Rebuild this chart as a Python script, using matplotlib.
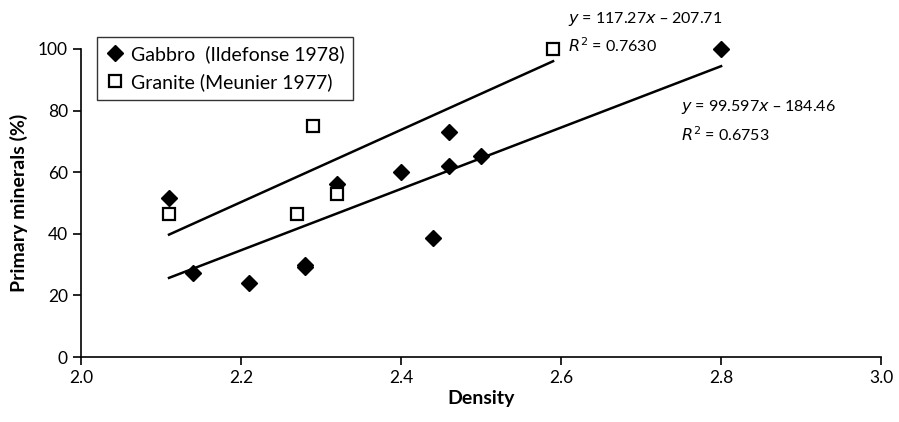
import numpy as np
import matplotlib.pyplot as plt

plt.rcParams['font.family'] = ['Lato', 'DejaVu Sans']

# Gabbro (Ildefonse 1978)
gabbro_x = [2.11, 2.14, 2.21, 2.28, 2.28, 2.32, 2.40, 2.44, 2.46, 2.46, 2.50, 2.80]
gabbro_y = [51.5, 27.4, 24.1, 29.3, 30.0, 56.0, 60.2, 38.5, 73.1, 62.0, 65.3, 100.0]

# Granite (Meunier 1977)
granite_x = [2.11, 2.27, 2.29, 2.32, 2.59]
granite_y = [46.3, 46.3, 75.0, 52.9, 100.0]

# trend line coefficients (slope, intercept)
gabbro_fit = (99.597, -184.46)
granite_fit = (117.27, -207.71)

fig = plt.figure(figsize=(8.99, 4.22), dpi=100)
ax = fig.add_axes([0.0901, 0.154, 0.89, 0.730])

gx = np.array([min(gabbro_x), max(gabbro_x)])
ax.plot(gx, gabbro_fit[0]*gx + gabbro_fit[1], c='black', lw=1.8, clip_on=False)
sx = np.array([min(granite_x), max(granite_x)])
ax.plot(sx, granite_fit[0]*sx + granite_fit[1], c='black', lw=1.8, clip_on=False)

ax.plot(gabbro_x, gabbro_y, 'D', ms=8, mfc='black', mec='black',
        label='Gabbro  (Ildefonse 1978)', clip_on=False, zorder=3)
ax.plot(granite_x, granite_y, 's', ms=9, mfc='white', mec='black', mew=1.6,
        label='Granite (Meunier 1977)', clip_on=False, zorder=3)

ax.set_xlim(2.0, 3.0)
ax.set_ylim(0, 100)
ax.set_xticks(np.arange(2.0, 3.01, 0.2))
ax.set_xticklabels(['2.0', '2.2', '2.4', '2.6', '2.8', '3.0'])
ax.set_yticks(range(0, 101, 20))
ax.spines['top'].set_visible(False)
ax.spines['right'].set_visible(False)
ax.spines['left'].set_linewidth(1.2)
ax.spines['bottom'].set_linewidth(1.2)
ax.tick_params(axis='both', direction='out', length=6, width=1.2, labelsize=12.5)
ax.set_xlabel('Density', fontsize=14, fontweight='bold', labelpad=3)
ax.set_ylabel('Primary minerals (%)', fontsize=14, fontweight='bold', labelpad=7)

leg = ax.legend(loc='upper left', bbox_to_anchor=(0.02, 1.04), borderaxespad=0,
                fontsize=14, frameon=True, fancybox=False, edgecolor='black',
                handletextpad=0.3, handlelength=1.0, borderpad=0.45, labelspacing=0.5)
leg.get_frame().set_linewidth(1.0)

ax.text(0.609, 1.085, r'$y$ = 117.27$x$ – 207.71', transform=ax.transAxes, fontsize=11.5)
ax.text(0.609, 0.99, r'$R^2$ = 0.7630', transform=ax.transAxes, fontsize=11.5)
ax.text(0.750, 0.80, r'$y$ = 99.597$x$ – 184.46', transform=ax.transAxes, fontsize=11.5)
ax.text(0.750, 0.70, r'$R^2$ = 0.6753', transform=ax.transAxes, fontsize=11.5)

plt.savefig('out.png', dpi=100)
